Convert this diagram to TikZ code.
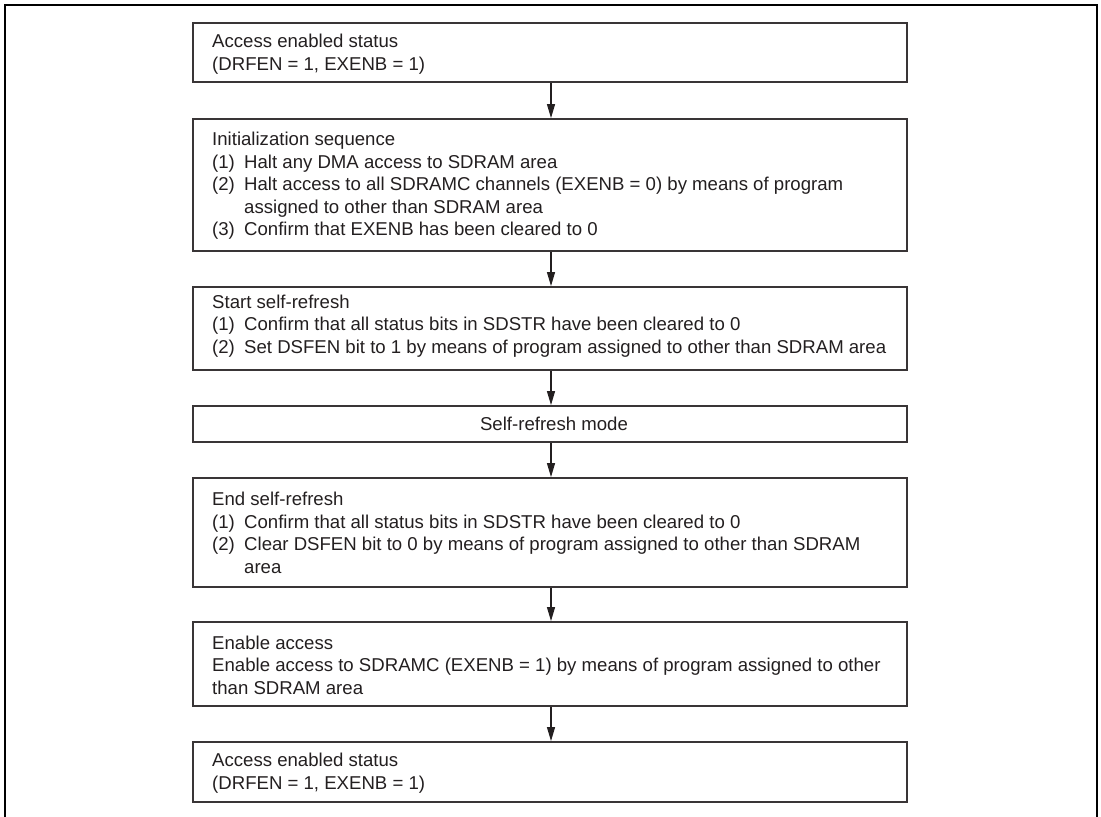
\documentclass[tikz,border=0pt]{standalone}
\usepackage{fontspec}
\setmainfont{Liberation Sans}
\usetikzlibrary{arrows.meta}
\definecolor{ink}{HTML}{231F20}
\tikzset{
  box/.style={draw=ink!90, line width=1.8pt, minimum width=714pt, inner sep=0pt, rectangle},
  txt/.style={anchor=west, align=left, inner sep=0pt, text=ink, font=\fontsize{18.6}{22.5}\selectfont},
  flow/.style={draw=ink, line width=1.2pt, -{Triangle[length=14pt,width=8pt]}}
}
\newcommand{\itm}[1]{\makebox[32pt][l]{#1}}
\newcommand{\cont}{\hspace*{32pt}}
\begin{document}
\begin{tikzpicture}[x=1pt,y=-1pt]
\useasboundingbox (0,0) rectangle (1101,817);
\coordinate (fbl) at (5,817);
\coordinate (ftl) at (5,5);
\coordinate (ftr) at (1097,5);
\coordinate (fbr) at (1097,817);
\draw[line width=2.2pt, draw=black] (fbl) -- (ftl) -- (ftr) -- (fbr);

\node[box, minimum height=59pt]  (b1) at (550,52.5) {};
\node[box, minimum height=132pt] (b2) at (550,185) {};
\node[box, minimum height=83pt]  (b3) at (550,328.5) {};
\node[box, minimum height=36pt]  (b4) at (550,424) {};
\node[box, minimum height=109pt] (b5) at (550,532.5) {};
\node[box, minimum height=84pt]  (b6) at (550,664) {};
\node[box, minimum height=60pt]  (b7) at (550,772) {};

\node[txt] (t1) at (212,54) {Access enabled status\\(DRFEN = 1, EXENB = 1)};
\node[txt] (t2) at (212,186) {Initialization sequence\\
\itm{(1)}Halt any DMA access to SDRAM area\\
\itm{(2)}Halt access to all SDRAMC channels (EXENB = 0) by means of program\\
\cont assigned to other than SDRAM area\\
\itm{(3)}Confirm that EXENB has been cleared to 0};
\node[txt] (t3) at (212,326) {Start self-refresh\\
\itm{(1)}Confirm that all status bits in SDSTR have been cleared to 0\\
\itm{(2)}Set DSFEN bit to 1 by means of program assigned to other than SDRAM area};
\node[txt, anchor=center] (t4) at (554,424) {Self-refresh mode};
\node[txt] (t5) at (212,533) {End self-refresh\\
\itm{(1)}Confirm that all status bits in SDSTR have been cleared to 0\\
\itm{(2)}Clear DSFEN bit to 0 by means of program assigned to other than SDRAM\\
\cont area};
\node[txt] (t6) at (212,665) {Enable access\\
Enable access to SDRAMC (EXENB = 1) by means of program assigned to other\\
than SDRAM area};
\node[txt] (t7) at (212,773) {Access enabled status\\(DRFEN = 1, EXENB = 1)};

\draw[flow] ([xshift=1pt]b1.south) -- ([xshift=1pt]b2.north);
\draw[flow] ([xshift=1pt]b2.south) -- ([xshift=1pt]b3.north);
\draw[flow] ([xshift=1pt]b3.south) -- ([xshift=1pt]b4.north);
\draw[flow] ([xshift=1pt]b4.south) -- ([xshift=1pt]b5.north);
\draw[flow] ([xshift=1pt]b5.south) -- ([xshift=1pt]b6.north);
\draw[flow] ([xshift=1pt]b6.south) -- ([xshift=1pt]b7.north);
\end{tikzpicture}
\end{document}
